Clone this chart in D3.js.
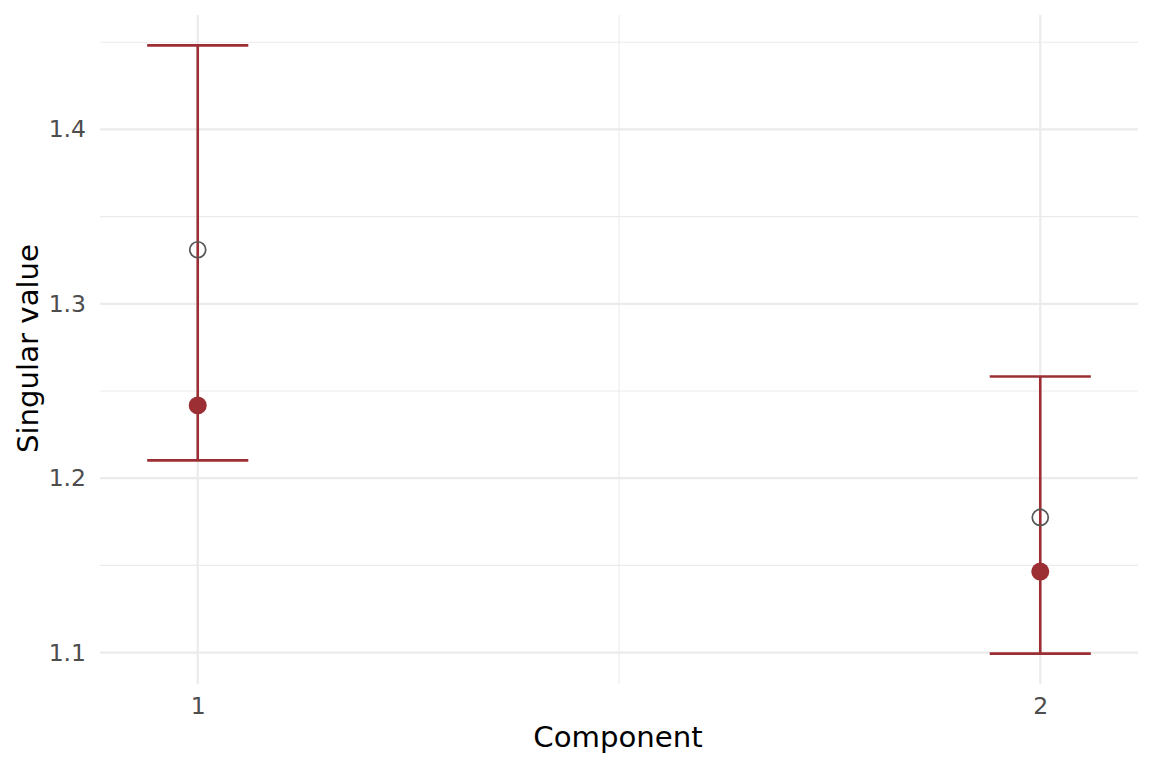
<!DOCTYPE html>
<html>
<head>
<meta charset="utf-8">
<script src="https://cdn.jsdelivr.net/npm/d3@7"></script>
<style>
html,body{margin:0;padding:0;background:#fff;}
svg{display:block;font-family:"DejaVu Sans",sans-serif;}
</style>
</head>
<body>
<svg id="chart" width="1152" height="768"></svg>
<script>
const components = [1, 2];
const observed = [1.331, 1.1775];
const estimate = [1.2417, 1.1465];
const lower = [1.2102, 1.0994];
const upper = [1.4482, 1.2583];
const xTicks = [1, 2];
const xMinor = [1.5];
const yTicks = [1.1, 1.2, 1.3, 1.4];
const yMinor = [1.15, 1.25, 1.35, 1.45];

(function () {
const svg = d3.select("#chart");
const pL = 100, pR = 1138, pT = 15, pB = 684;
const barW = 0.12;
const tickFont = 23.5, titleFont = 29.2;

const x = d3.scaleLinear().domain([0.884, 2.116]).range([pL, pR]);
const y = d3.scaleLinear().domain([1.0820, 1.4656]).range([pB, pT]);

const grid = svg.append("g");
grid.selectAll(".ymin").data(yMinor).join("line")
  .attr("x1", pL).attr("x2", pR)
  .attr("y1", d => y(d)).attr("y2", d => y(d))
  .attr("stroke", "#ebebeb").attr("stroke-width", 1.1);
grid.selectAll(".xmin").data(xMinor).join("line")
  .attr("y1", pT).attr("y2", pB)
  .attr("x1", d => x(d)).attr("x2", d => x(d))
  .attr("stroke", "#ebebeb").attr("stroke-width", 1.1);
grid.selectAll(".ymaj").data(yTicks).join("line")
  .attr("x1", pL).attr("x2", pR)
  .attr("y1", d => y(d)).attr("y2", d => y(d))
  .attr("stroke", "#ebebeb").attr("stroke-width", 2.2);
grid.selectAll(".xmaj").data(xTicks).join("line")
  .attr("y1", pT).attr("y2", pB)
  .attr("x1", d => x(d)).attr("x2", d => x(d))
  .attr("stroke", "#ebebeb").attr("stroke-width", 2.2);

const yAxis = svg.append("g").attr("transform", `translate(${pL},0)`)
  .call(d3.axisLeft(y).tickValues(yTicks).tickFormat(d3.format(".1f")).tickSize(0).tickPadding(14));
yAxis.select(".domain").remove();
yAxis.attr("font-size", tickFont).attr("font-family", "DejaVu Sans");
yAxis.selectAll("text").attr("fill", "#4d4d4d");

const xAxis = svg.append("g").attr("transform", `translate(0,${pB})`)
  .call(d3.axisBottom(x).tickValues(xTicks).tickFormat(d3.format("d")).tickSize(0).tickPadding(13));
xAxis.select(".domain").remove();
xAxis.attr("font-size", tickFont).attr("font-family", "DejaVu Sans");
xAxis.selectAll("text").attr("fill", "#4d4d4d");

svg.append("text").attr("x", (pL + pR) / 2 - 1).attr("y", 747)
  .attr("text-anchor", "middle").attr("font-size", titleFont).attr("fill", "#000")
  .text("Component");
svg.append("text").attr("transform", `translate(37.5,${(pT + pB) / 2 - 1}) rotate(-90)`)
  .attr("text-anchor", "middle").attr("font-size", titleFont).attr("fill", "#000")
  .text("Singular value");

const red = "#9b2f33";
const lw = 2.6;
const data = components.map((c, i) => ({c, obs: observed[i], est: estimate[i], lo: lower[i], hi: upper[i]}));
const eb = svg.append("g");
eb.selectAll(".v").data(data).join("line")
  .attr("x1", d => x(d.c)).attr("x2", d => x(d.c))
  .attr("y1", d => y(d.lo)).attr("y2", d => y(d.hi))
  .attr("stroke", red).attr("stroke-width", lw);
eb.selectAll(".hi").data(data).join("line")
  .attr("x1", d => x(d.c - barW / 2)).attr("x2", d => x(d.c + barW / 2))
  .attr("y1", d => y(d.hi)).attr("y2", d => y(d.hi))
  .attr("stroke", red).attr("stroke-width", lw);
eb.selectAll(".lo").data(data).join("line")
  .attr("x1", d => x(d.c - barW / 2)).attr("x2", d => x(d.c + barW / 2))
  .attr("y1", d => y(d.lo)).attr("y2", d => y(d.lo))
  .attr("stroke", red).attr("stroke-width", lw);
eb.selectAll(".est").data(data).join("circle")
  .attr("cx", d => x(d.c)).attr("cy", d => y(d.est)).attr("r", 9)
  .attr("fill", red);
eb.selectAll(".obs").data(data).join("circle")
  .attr("cx", d => x(d.c)).attr("cy", d => y(d.obs)).attr("r", 8)
  .attr("fill", "none").attr("stroke", "#555").attr("stroke-width", 1.7);
})();
</script>
</body>
</html>
